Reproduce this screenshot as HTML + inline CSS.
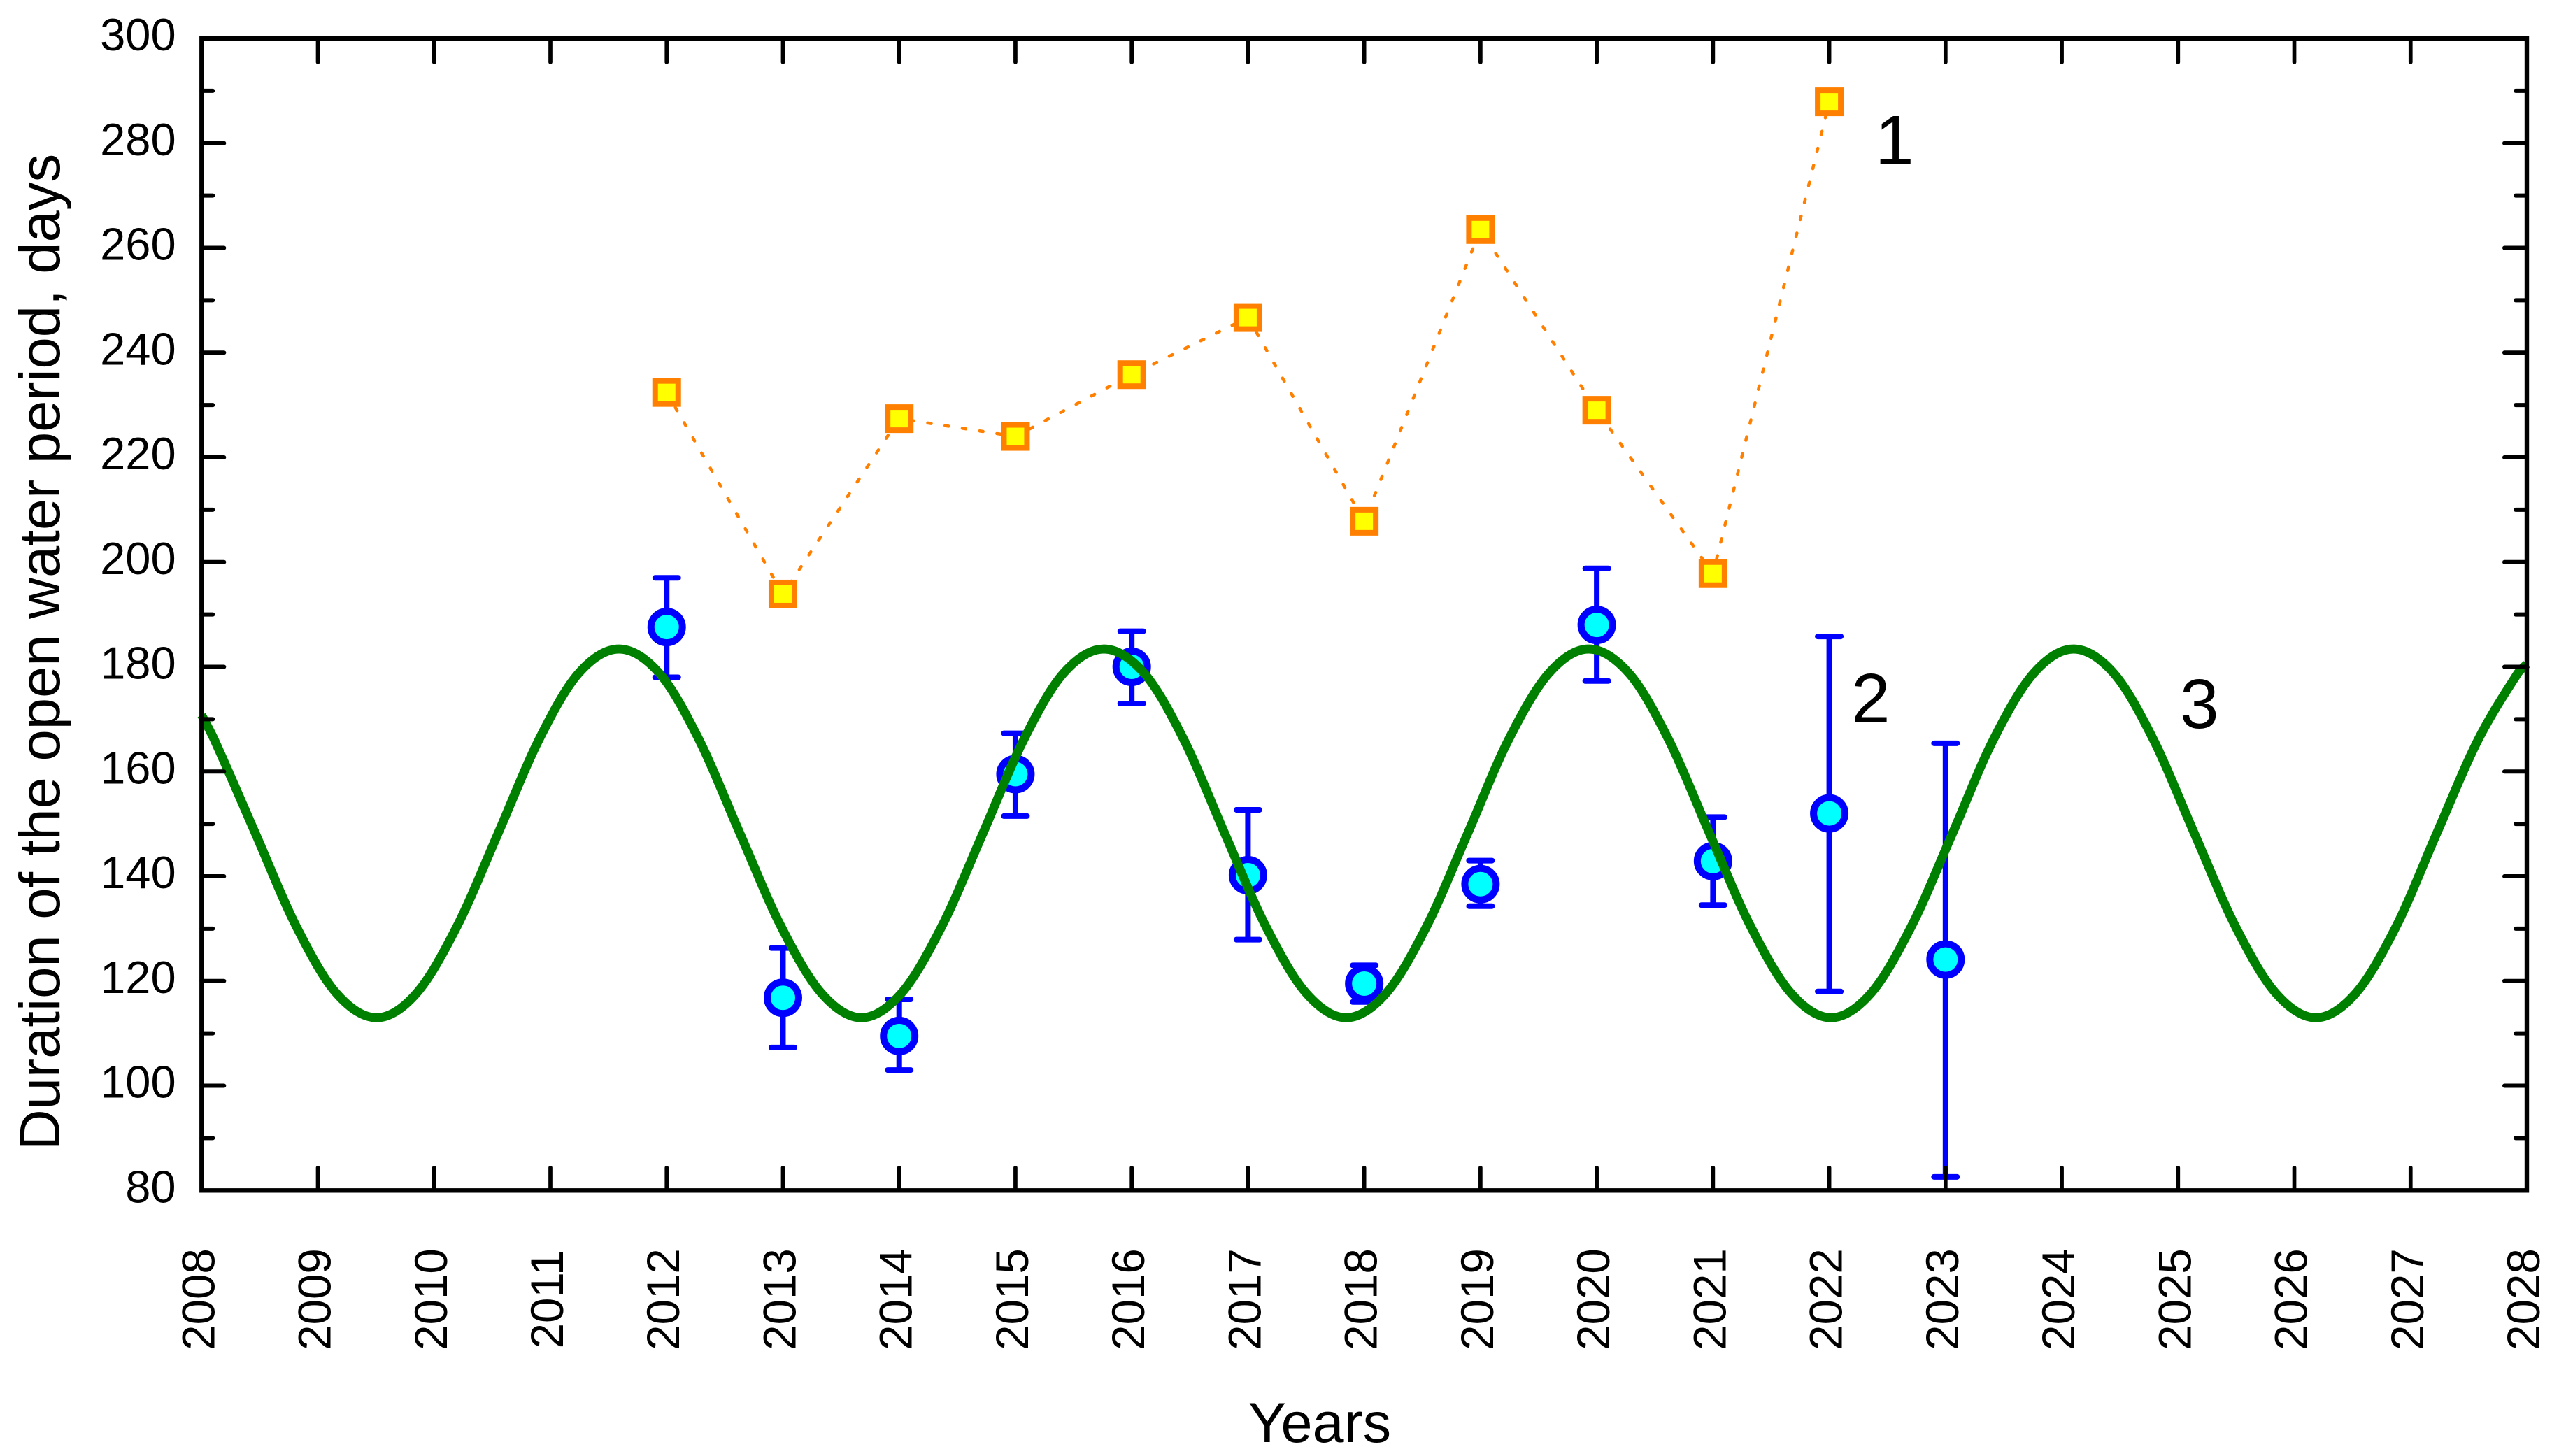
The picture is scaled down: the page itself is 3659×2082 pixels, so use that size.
<!DOCTYPE html>
<html lang="en">
<head>
<meta charset="utf-8">
<title>Duration of the open water period</title>
<style>
html,body{margin:0;padding:0;background:#fff;}
svg{display:block;}
text{font-family:"Liberation Sans",Arial,sans-serif;fill:#000;}
</style>
</head>
<body>
<svg id="chart" xmlns="http://www.w3.org/2000/svg" width="3659" height="2082" viewBox="0 0 3659 2082">
  <rect x="0" y="0" width="3659" height="2082" fill="#fff"/>
  <g id="series-orange"></g>
  <g id="series-blue"></g>
  <g id="series-green"></g>
  <g id="ticks"></g>
  <rect x="288.3" y="55" width="3324.7" height="1647.3" fill="none" stroke="#000" stroke-width="6.4"/>
  <g id="y-tick-labels"></g>
  <g id="x-tick-labels"></g>
  <text transform="translate(85,1645) rotate(-90)" font-size="81.4">Duration of the open water period, days</text>
  <text x="1887" y="2062" font-size="81" text-anchor="middle">Years</text>
  <text x="2681" y="235" font-size="100">1</text>
  <text x="2647" y="1033" font-size="100">2</text>
  <text x="3117" y="1041" font-size="100">3</text>
</svg>
<script>
// Axis tick values
const xTickYears = [2008,2009,2010,2011,2012,2013,2014,2015,2016,2017,2018,2019,2020,2021,2022,2023,2024,2025,2026,2027,2028];
const yMajorTicks = [80,100,120,140,160,180,200,220,240,260,280,300];
const yMinorTicks = [90,110,130,150,170,190,210,230,250,270,290];

// Series 1: orange squares
const orangeYears = [2012,2013,2014,2015,2016,2017,2018,2019,2020,2021,2022];
const orangeValues = [232.4,193.9,227.4,224,235.8,246.7,207.8,263.5,229,197.8,287.9];

// Series 2: blue circles with error bars
const blueYears = [2012,2013,2014,2015,2016,2017,2018,2019,2020,2021,2022,2023];
const blueValues = [187.6,116.8,109.5,159.5,180,140.2,119.5,138.5,188,142.9,152,124.1];
const blueUpper = [197,126.3,116.5,167.3,186.8,152.7,123,143,198.8,151.3,185.8,165.4];
const blueLower = [178,107.3,103,151.5,173,127.9,116,134.3,177.3,134.5,118,82.6];

// Series 3: green curve
const greenYears = [2008,2008.115,2008.4625,2008.81,2009.1575,2009.505,2009.85,2010.2,2010.55,2010.895,2011.24,2011.59,2011.94,2012.285,2012.63,2012.98,2013.33,2013.675,2014.02,2014.37,2014.72,2015.065,2015.41,2015.76,2016.11,2016.455,2016.8,2017.15,2017.5,2017.845,2018.19,2018.54,2018.89,2019.235,2019.585,2019.93,2020.28,2020.625,2020.97,2021.32,2021.67,2022.015,2022.36,2022.71,2023.06,2023.405,2023.755,2024.1,2024.45,2024.795,2025.14,2025.49,2025.84,2026.185,2026.53,2026.88,2027.225,2027.575,2027.92,2028];
const greenValues = [170.8,165.8,148.2,130.6,117.7,113,117.7,130.6,148.2,165.8,178.7,183.4,178.7,165.8,148.2,130.6,117.7,113,117.7,130.6,148.2,165.8,178.7,183.4,178.7,165.8,148.2,130.6,117.7,113,117.7,130.6,148.2,165.8,178.7,183.4,178.7,165.8,148.2,130.6,117.7,113,117.7,130.6,148.2,165.8,178.7,183.4,178.7,165.8,148.2,130.6,117.7,113,117.7,130.6,148.2,165.8,178.7,180.5];

const SVGNS = 'http://www.w3.org/2000/svg';
const PLOT = {left:288.3, right:3613, top:55, bottom:1702.3};
function xScale(year){ return PLOT.left + (year-2008)*(PLOT.right-PLOT.left)/20; }
function yScale(v){ return PLOT.bottom - (v-80)*(PLOT.bottom-PLOT.top)/220; }
function mk(parent, tag, attrs){
  const el = document.createElementNS(SVGNS, tag);
  for (const k in attrs) el.setAttribute(k, attrs[k]);
  parent.appendChild(el);
  return el;
}

const tickGroup = document.getElementById('ticks');
xTickYears.slice(1,-1).forEach(function(y){
  const x = xScale(y);
  const t1 = mk(tickGroup,'line',{x1:x,x2:x,y1:PLOT.top,y2:PLOT.top+34,stroke:'#000','stroke-width':5.7,'stroke-linecap':'round'});
  
  
  const t2 = mk(tickGroup,'line',{x1:x,x2:x,y1:PLOT.bottom,y2:PLOT.bottom-32.5,stroke:'#000','stroke-width':5.7,'stroke-linecap':'round'});
  
  
});
yMajorTicks.slice(1,-1).forEach(function(v){
  const y = yScale(v);
  const t1 = mk(tickGroup,'line',{x1:PLOT.left,x2:PLOT.left+32,y1:y,y2:y,stroke:'#000','stroke-width':6,'stroke-linecap':'round'});
  
  
  const t2 = mk(tickGroup,'line',{x1:PLOT.right,x2:PLOT.right-32,y1:y,y2:y,stroke:'#000','stroke-width':6,'stroke-linecap':'round'});
  
  
});
yMinorTicks.forEach(function(v){
  const y = yScale(v);
  const t1 = mk(tickGroup,'line',{x1:PLOT.left,x2:PLOT.left+16,y1:y,y2:y,stroke:'#000','stroke-width':6,'stroke-linecap':'round'});
  
  
  const t2 = mk(tickGroup,'line',{x1:PLOT.right,x2:PLOT.right-16,y1:y,y2:y,stroke:'#000','stroke-width':6,'stroke-linecap':'round'});
  
  
});

const yLabelGroup = document.getElementById('y-tick-labels');
yMajorTicks.forEach(function(v){
  const t = mk(yLabelGroup,'text',{x:251.6,y:yScale(v)+17,'font-size':65,'text-anchor':'end'});
  t.textContent = String(v);
  
  
});

const xLabelGroup = document.getElementById('x-tick-labels');
xTickYears.forEach(function(y){
  const bx = xScale(y)+18;
  const t = mk(xLabelGroup,'text',{transform:'translate('+bx+',1858) rotate(-90)','font-size':65.5,'text-anchor':'middle'});
  t.textContent = String(y);
  
  
});

// Series 1
const orangeGroup = document.getElementById('series-orange');
const orangePts = orangeYears.map(function(y,i){ return xScale(y)+','+yScale(orangeValues[i]); }).join(' ');
const orangeLine = mk(orangeGroup,'polyline',{points:orangePts,fill:'none',stroke:'#FF8000','stroke-width':4.5,'stroke-linecap':'round','stroke-dasharray':'5 20'});


orangeYears.forEach(function(y,i){
  const cx = xScale(y), cy = yScale(orangeValues[i]);
  const r = mk(orangeGroup,'rect',{x:cx-16.5,y:cy-16.5,width:33,height:33,fill:'#FFFF00',stroke:'#FF8000','stroke-width':8});
  
  
});

// Series 2
const blueGroup = document.getElementById('series-blue');
blueYears.forEach(function(y,i){
  const cx = xScale(y);
  const top = yScale(blueUpper[i]), bot = yScale(blueLower[i]);
  const stem = mk(blueGroup,'line',{x1:cx,x2:cx,y1:top,y2:bot,stroke:'#0000FF','stroke-width':8});
  
  
  const capT = mk(blueGroup,'line',{x1:cx-16.5,x2:cx+16.5,y1:top,y2:top,stroke:'#0000FF','stroke-width':8,'stroke-linecap':'round'});
  
  
  const capB = mk(blueGroup,'line',{x1:cx-16.5,x2:cx+16.5,y1:bot,y2:bot,stroke:'#0000FF','stroke-width':8,'stroke-linecap':'round'});
  
  
  const c = mk(blueGroup,'circle',{cx:cx,cy:yScale(blueValues[i]),r:22.5,fill:'#00FFFF',stroke:'#0000FF','stroke-width':10});
  
  
});

// Series 3: smooth curve through the read values
const gx = greenYears.map(xScale);
const gy = greenValues.map(yScale);
const slope = gx.map(function(_,i){
  const a = Math.max(i-1,0), b = Math.min(i+1,gx.length-1);
  return (gy[b]-gy[a])/(gx[b]-gx[a]);
});
let greenPath = 'M'+gx[0]+' '+gy[0];
for (let i=0;i<gx.length-1;i++){
  const h = gx[i+1]-gx[i];
  greenPath += ' C'+(gx[i]+h/3)+' '+(gy[i]+slope[i]*h/3)+' '+(gx[i+1]-h/3)+' '+(gy[i+1]-slope[i+1]*h/3)+' '+gx[i+1]+' '+gy[i+1];
}
const greenLine = mk(document.getElementById('series-green'),'path',{d:greenPath,fill:'none',stroke:'#008000','stroke-width':12.8,'stroke-linejoin':'round'});


</script>
</body>
</html>
